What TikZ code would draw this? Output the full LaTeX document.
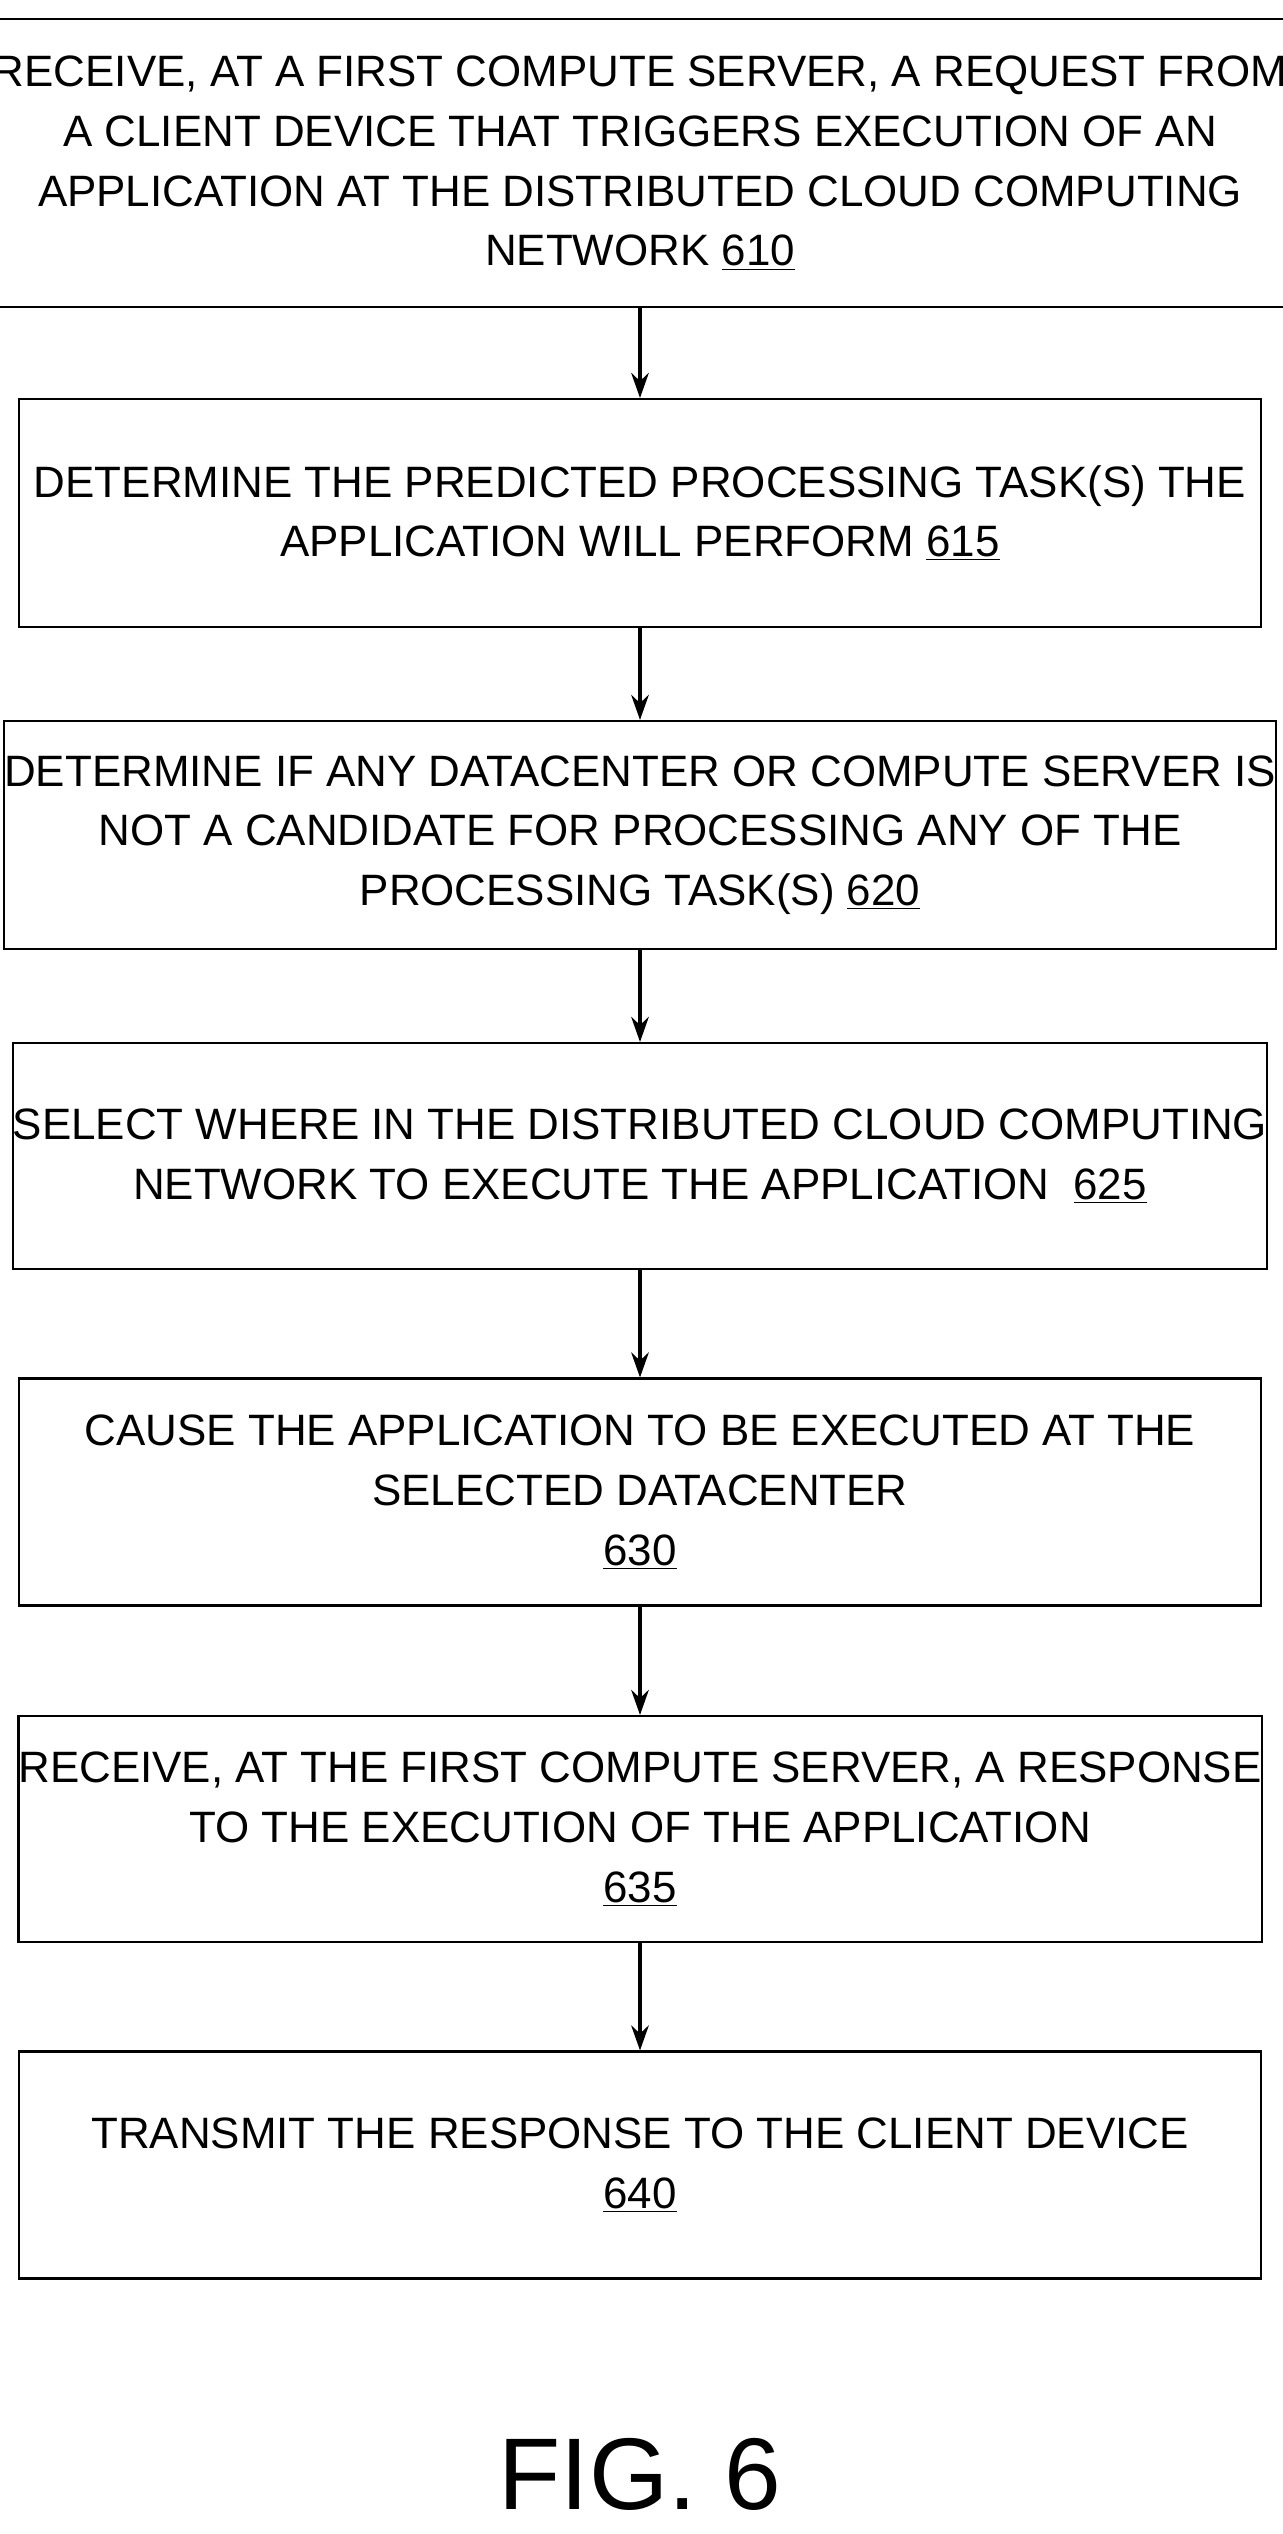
\documentclass[tikz,border=0pt]{standalone}
\usepackage{fontspec}
\setmainfont{Liberation Sans}
\usetikzlibrary{arrows.meta}
\usetikzlibrary{positioning}
\tikzset{stage/.style={draw=black,line width=1.2pt,minimum width=24.84cm,align=center,
    font=\fontsize{25}{34}\selectfont,inner sep=0pt}}
\tikzset{arrow/.style={-{Stealth[length=5mm,width=3.5mm]},line width=2.2pt}}

\begin{document}
\begin{tikzpicture}[x=0.02cm,y=-0.02cm]
        \useasboundingbox (0,0) rectangle (1282,2534);

        \node[stage,minimum height=5.76cm] (rcv) at (640,163) {RECEIVE, AT A FIRST COMPUTE SERVER, A REQUEST FROM\\
            A CLIENT DEVICE THAT TRIGGERS EXECUTION OF AN\\
            APPLICATION AT THE DISTRIBUTED CLOUD COMPUTING\\
            NETWORK \underline{610}};
        \node[stage,minimum height=4.56cm] (prd) at (640,513) {DETERMINE THE PREDICTED PROCESSING TASK(S) THE\\
            APPLICATION WILL PERFORM \underline{615}};
        \node[stage,minimum height=4.56cm] (cnd) at (640,835) {DETERMINE IF ANY DATACENTER OR COMPUTE SERVER IS\\
            NOT A CANDIDATE FOR PROCESSING ANY OF THE\\
            PROCESSING TASK(S) \underline{620}};
        \node[stage,minimum height=4.52cm] (sel) at (640,1156) {SELECT WHERE IN THE DISTRIBUTED CLOUD COMPUTING\\
            NETWORK TO EXECUTE THE APPLICATION\ \ \underline{625}};
        \node[stage,minimum height=4.54cm] (exe) at (640,1492) {CAUSE THE APPLICATION TO BE EXECUTED AT THE\\
            SELECTED DATACENTER\\
            \underline{630}};
        \node[stage,minimum height=4.52cm] (rsp) at (640,1829) {RECEIVE, AT THE FIRST COMPUTE SERVER, A RESPONSE\\
            TO THE EXECUTION OF THE APPLICATION\\
            \underline{635}};
        \node[stage,minimum height=4.54cm] (txm) at (640,2165) {TRANSMIT THE RESPONSE TO THE CLIENT DEVICE\\
            \underline{640}};
        \node[font=\fontsize{58}{64}\selectfont] (fig) at (640,2474) {FIG. 6};

        \draw[arrow] (rcv) -- (prd);
        \draw[arrow] (prd) -- (cnd);
        \draw[arrow] (cnd) -- (sel);
        \draw[arrow] (sel) -- (exe);
        \draw[arrow] (exe) -- (rsp);
        \draw[arrow] (rsp) -- (txm);
\end{tikzpicture}
\end{document}
